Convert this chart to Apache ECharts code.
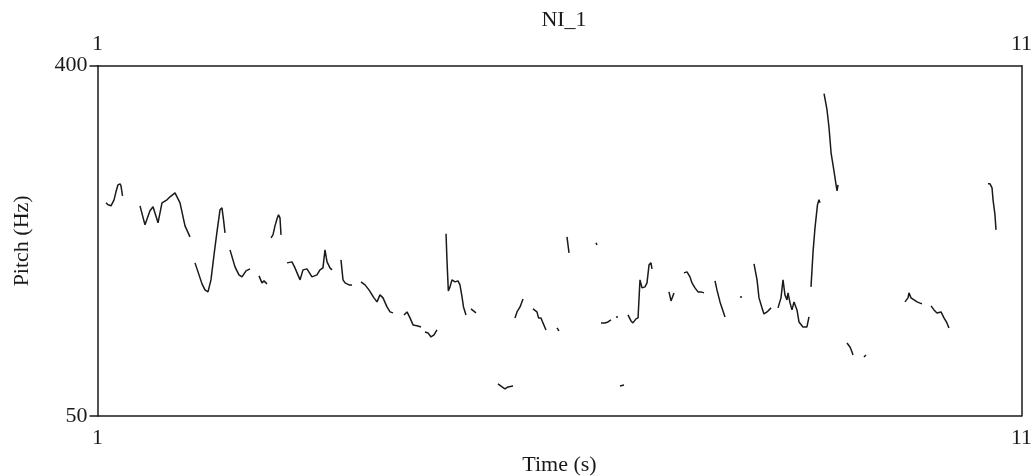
<!DOCTYPE html>
<html>
<head>
<meta charset="utf-8">
<title>NI_1</title>
<script src="https://cdn.jsdelivr.net/npm/echarts@6/dist/echarts.min.js"></script>
<style>
  html, body { margin: 0; padding: 0; background: #fff; }
  #main { width: 1035px; height: 476px; }
</style>
</head>
<body>
<div id="main"></div>
<script>
// pitch track pieces, [time (s), pitch (Hz)]
var segA = [[1.092,263],[1.114,261],[1.146,260],[1.179,266],[1.200,274],[1.222,281],[1.244,282],[1.254,280],[1.271,270]];
var segB = [[1.460,260],[1.514,241],[1.568,255],[1.601,259],[1.655,243],[1.698,263],[1.752,266],[1.785,269],[1.806,268],[1.839,273],[1.893,263],[1.947,240],[2.001,229]];
var segC = [[2.055,203],[2.088,194],[2.131,182],[2.163,176],[2.196,174],[2.228,186],[2.261,211],[2.293,234],[2.326,256],[2.347,258],[2.364,246],[2.380,233]];
var segD = [[2.434,216],[2.488,199],[2.531,191],[2.564,189],[2.607,195],[2.651,197]];
var segE = [[2.748,190],[2.780,183],[2.802,185],[2.834,182]];
var segF = [[2.878,228],[2.899,231],[2.921,240],[2.943,247],[2.959,251],[2.975,248],[2.986,231]];
var segG = [[3.051,203],[3.105,204],[3.137,198],[3.192,186],[3.224,196],[3.267,197],[3.321,189],[3.375,191],[3.408,196],[3.440,198],[3.462,216],[3.484,204],[3.516,198],[3.538,196]];
var segH = [[3.635,206],[3.657,186],[3.679,183],[3.700,183],[3.722,181],[3.755,181]];
var segI = [[3.852,184],[3.895,181],[3.938,176],[3.992,168],[4.025,164],[4.057,171],[4.090,168],[4.133,159],[4.166,154],[4.198,153]];
var segJ = [[4.317,151],[4.350,154],[4.382,148],[4.415,141],[4.469,140],[4.501,139]];
var segK = [[4.544,134],[4.577,133],[4.609,129],[4.642,131],[4.674,136]];
var segL = [[4.772,232],[4.782,206],[4.797,175],[4.815,179],[4.836,186],[4.869,184],[4.901,185],[4.923,181],[4.945,169],[4.961,159],[4.988,151]];
var segM = [[5.042,157],[5.096,153]];
var segS = [[5.334,82],[5.378,79],[5.410,77],[5.443,79],[5.497,80]];
var segN = [[5.518,148],[5.540,154],[5.573,159],[5.605,167]];
var segO = [[5.713,157],[5.756,154],[5.773,148],[5.800,148],[5.821,143],[5.854,136]];
var segP = [[5.973,138],[5.994,135]];
var segQ = [[6.081,229],[6.092,221],[6.103,213]];
var segR = [[6.395,223],[6.406,221]];
var segU = [[6.449,143],[6.492,143],[6.525,144],[6.557,146]];
var segV = [[6.611,149],[6.633,149]];
var segT = [[6.655,80],[6.698,81]];
var segW2 = [[6.741,151],[6.774,145],[6.795,143],[6.828,147],[6.850,148],[6.871,186],[6.893,178],[6.925,179],[6.947,183],[6.969,201],[6.990,203],[7.001,197]];
var segW = [[7.185,174],[7.207,165],[7.239,173]];
var segX = [[7.347,193],[7.380,194],[7.412,189],[7.434,183],[7.466,178],[7.499,174],[7.531,174],[7.564,173]];
var segY = [[7.683,185],[7.704,176],[7.737,164],[7.791,149]];
var segZ = [[7.953,169],[7.975,169]];
var segAA = [[8.105,202],[8.138,186],[8.159,168],[8.192,158],[8.213,152],[8.246,154],[8.290,158]];
var segAB = [[8.365,158],[8.397,168],[8.419,186],[8.440,171],[8.462,166],[8.473,173],[8.495,163],[8.516,156],[8.538,164],[8.570,156],[8.592,144],[8.635,139],[8.678,139],[8.700,149]];
var segAC = [[8.722,179],[8.744,214],[8.765,238],[8.792,261],[8.808,266],[8.819,263]];
var segAD = [[8.863,372],[8.895,356],[8.917,338],[8.939,313],[8.960,301],[8.982,288],[8.993,281],[9.004,275],[9.014,281]];
var segAE = [[9.111,123],[9.144,119],[9.166,114],[9.176,111]];
var segAF = [[9.295,109],[9.317,111]];
var segAG = [[9.739,164],[9.772,168],[9.782,173],[9.804,168],[9.837,166],[9.869,164],[9.923,162]];
var segAH = [[10.021,160],[10.053,156],[10.085,153],[10.129,154],[10.161,148],[10.193,143],[10.215,138]];
var segAI = [[10.637,282],[10.659,282],[10.681,278],[10.692,266],[10.713,251],[10.724,236]];

var segments = [segA, segB, segC, segD, segE, segF, segG, segH, segI, segJ, segK, segL, segM,
    segS, segN, segO, segP, segQ, segR, segU, segV, segT, segW2, segW, segX, segY, segZ,
    segAA, segAB, segAC, segAD, segAE, segAF, segAG, segAH, segAI];

var timeTicks = [1, 11];
var pitchTicks = [50, 400];

var font = '"Liberation Serif", "Times New Roman", serif';
var ink = '#1a1a1a';
var fs = 22;

var myChart = echarts.init(document.getElementById('main'));

var series = segments.map(function(seg) {
    return {
        type: 'line',
        xAxisIndex: 0,
        yAxisIndex: 0,
        data: seg,
        showSymbol: false,
        symbol: 'none',
        smooth: false,
        lineStyle: { color: ink, width: 1.5 },
        silent: true
    };
});

var option = {
    animation: false,
    backgroundColor: '#fff',
    title: {
        text: 'NI_1',
        left: 559,
        textAlign: 'center',
        top: 4,
        textStyle: { fontFamily: font, fontSize: fs, fontWeight: 'normal', color: ink }
    },
    grid: { left: 97.5, right: 13.5, top: 65.7, bottom: 60, containLabel: false, outerBoundsMode: 'none' },
    xAxis: [{
        type: 'value', position: 'bottom', min: 1, max: 11,
        name: 'Time (s)', nameLocation: 'middle', nameGap: 37,
        nameTextStyle: { fontFamily: font, fontSize: fs, color: ink },
        axisLine: { show: true, lineStyle: { color: ink, width: 1.5 } },
        axisTick: { show: false },
        axisLabel: { customValues: timeTicks, margin: 11, fontFamily: font, fontSize: fs, color: ink },
        splitLine: { show: false }
    }, {
        type: 'value', position: 'top', min: 1, max: 11,
        axisLine: { show: true, lineStyle: { color: ink, width: 1.5 } },
        axisTick: { show: false },
        axisLabel: { customValues: timeTicks, margin: 10, fontFamily: font, fontSize: fs, color: ink },
        splitLine: { show: false }
    }],
    yAxis: [{
        type: 'value', position: 'left', min: 50, max: 400,
        name: 'Pitch (Hz)', nameLocation: 'middle', nameGap: 64, nameRotate: 90,
        nameTextStyle: { fontFamily: font, fontSize: fs, color: ink },
        axisLine: { show: true, lineStyle: { color: ink, width: 1.5 } },
        axisTick: { show: true, customValues: pitchTicks, length: 8, lineStyle: { color: ink, width: 1.5 } },
        axisLabel: { customValues: pitchTicks, margin: 10, fontFamily: font, fontSize: fs, color: ink },
        splitLine: { show: false }
    }, {
        type: 'value', position: 'right', min: 50, max: 400,
        axisLine: { show: true, lineStyle: { color: ink, width: 1.5 } },
        axisTick: { show: false },
        axisLabel: { show: false },
        splitLine: { show: false }
    }],
    series: series
};
myChart.setOption(option);
</script>
</body>
</html>
